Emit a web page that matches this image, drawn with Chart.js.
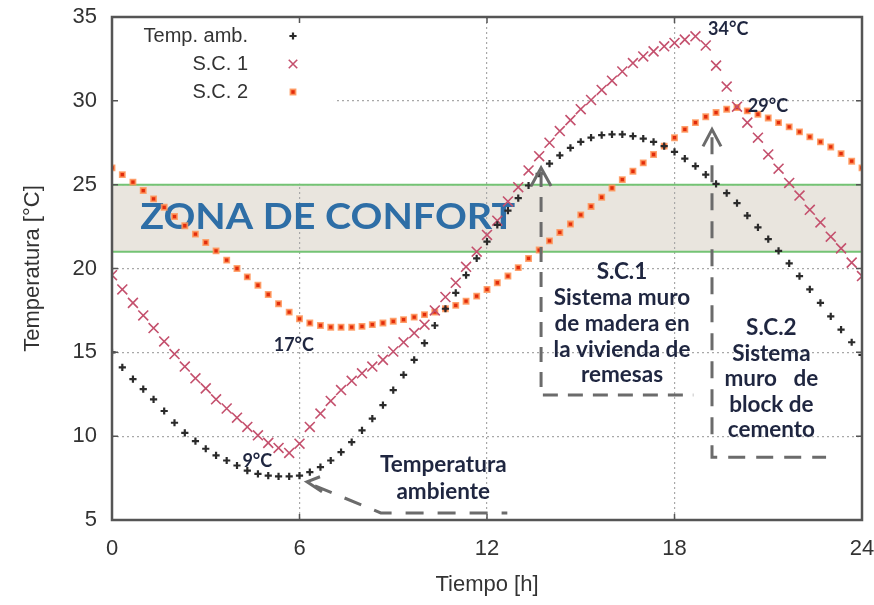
<!DOCTYPE html>
<html>
<head>
<meta charset="utf-8">
<script src="https://cdn.jsdelivr.net/npm/chart.js@4.4.1/dist/chart.umd.min.js"></script>
<style>
  html, body { margin: 0; padding: 0; background: #fff; }
  #wrap { width: 874px; height: 605px; }
</style>
</head>
<body>
<div id="wrap"><canvas id="grafica" width="874" height="605"></canvas></div>
<script>
// ── datos (lectura de la figura, paso de 20 min) ─────────────
const tiempo = [0,0.33,0.67,1,1.33,1.67,2,2.33,2.67,3,3.33,3.67,4,4.33,4.67,5,5.33,5.67,
  6,6.33,6.67,7,7.33,7.67,8,8.33,8.67,9,9.33,9.67,10,10.33,10.67,11,11.33,11.67,
  12,12.33,12.67,13,13.33,13.67,14,14.33,14.67,15,15.33,15.67,16,16.33,16.67,17,17.33,17.67,
  18,18.33,18.67,19,19.33,19.67,20,20.33,20.67,21,21.33,21.67,22,22.33,22.67,23,23.33,23.67,24];

const tempAmb = [15.0,14.1,13.4, 12.8,12.2,11.5, 10.8,10.2,9.7, 9.25,8.85,8.55, 8.25,7.95,7.75, 7.65,7.6,7.6,
  7.65,7.85,8.15, 8.55,9.05,9.65, 10.35,11.05,11.85, 12.75,13.65,14.55, 15.55,16.6,17.6, 18.55,19.6,20.6,
  21.6,22.6,23.45, 24.2,24.95,25.65, 26.25,26.75,27.2, 27.55,27.8,27.95, 28.0,28.0,27.9, 27.75,27.55,27.3,
  26.95,26.55,26.1, 25.6,25.05,24.5, 23.9,23.15,22.45, 21.75,21.05,20.3, 19.55,18.75,17.95, 17.15,16.35,15.6, 14.85];

const sc1 = [19.6,18.75,17.95, 17.2,16.45,15.65, 14.9,14.15,13.45, 12.85,12.2,11.65, 11.1,10.55,10.05, 9.6,9.3,9.0,
  9.55,10.55,11.35, 12.1,12.75,13.3, 13.75,14.15,14.55, 15.05,15.6,16.15, 16.65,17.5,18.3, 19.15,20.1,21.0,
  22.0,22.85,24.0, 24.85,25.85,26.7, 27.5,28.2,28.85, 29.5,30.05,30.65, 31.2,31.75,32.25, 32.65,32.95,33.25,
  33.45,33.65,33.85, 33.3,32.1,30.85, 29.65,28.7,27.8, 26.8,25.95,25.1, 24.35,23.5,22.75, 21.9,21.2,20.35, 19.55];

const sc2 = [26.0,25.6,25.15, 24.65,24.15,23.65, 23.1,22.55,22.05, 21.55,21.05,20.5, 20.0,19.5,19.0, 18.45,17.9,17.4,
  17.0,16.75,16.6, 16.5,16.5,16.5, 16.55,16.65,16.75, 16.85,16.95,17.1, 17.25,17.4,17.6, 17.8,18.05,18.35,
  18.75,19.15,19.55, 20.05,20.6,21.1, 21.65,22.15,22.65, 23.2,23.7,24.25, 24.8,25.3,25.8, 26.3,26.8,27.3,
  27.8,28.3,28.7, 29.05,29.3,29.5, 29.6,29.4,29.2, 28.98,28.7,28.45, 28.15,27.85,27.55, 27.25,26.85,26.4, 26.0];

const ticksX = [0, 6, 12, 18, 24];
const ticksY = [5, 10, 15, 20, 25, 30, 35];
const zonaConfort = [21, 25];

const etiquetas = ["Temp. amb.", "S.C. 1", "S.C. 2"];

// ── estilos ──────────────────────────────────────
const GRIS_TXT = "#333";
const NAVY = "#1f2640";
const DASH_COLOR = "#6b6b6b";

const toPts = arr => arr.map((v, i) => ({ x: tiempo[i], y: v }));

const X = (c, t) => c.scales.x.getPixelForValue(t);
const Y = (c, v) => c.scales.y.getPixelForValue(v);

// sin márgenes automáticos por las etiquetas: el área la fija layout.padding
function sinPadding(s) {
  s.paddingTop = 0; s.paddingBottom = 0; s.paddingLeft = 0; s.paddingRight = 0;
}

// banda de confort, debajo de la rejilla
const bandaPlugin = {
  id: "banda",
  beforeDraw(c) {
    const ctx = c.ctx, a = c.chartArea;
    ctx.save();
    ctx.fillStyle = "#e9e5de";
    ctx.fillRect(a.left, Y(c, zonaConfort[1]), a.right - a.left, Y(c, zonaConfort[0]) - Y(c, zonaConfort[1]));
    ctx.restore();
  },
  beforeDatasetsDraw(c) {
    const ctx = c.ctx, a = c.chartArea;
    ctx.save();
    // hueco blanco de la leyenda (tapa la rejilla)
    ctx.fillStyle = "#fff";
    ctx.fillRect(a.left + 1, a.top + 1, X(c, 7.07) - a.left, Y(c, 25) - a.top - 2);
    // líneas verdes
    ctx.strokeStyle = "#74c374";
    ctx.lineWidth = 2;
    zonaConfort.forEach(v => {
      ctx.beginPath();
      ctx.moveTo(a.left, Y(c, v));
      ctx.lineTo(a.right, Y(c, v));
      ctx.stroke();
    });
    // ZONA DE CONFORT
    const txt = "ZONA DE CONFORT";
    ctx.font = "bold 36px Lato";
    const w = ctx.measureText(txt).width;
    const x0 = X(c, 0.9), x1 = X(c, 12.9);
    ctx.translate(x0, Y(c, 23.05));
    ctx.scale((x1 - x0) / w, 1);
    ctx.fillStyle = "#2e6ea6";
    ctx.textAlign = "left";
    ctx.textBaseline = "middle";
    ctx.fillText(txt, 0, 0);
    ctx.restore();
  }
};

function dashedPath(ctx, pts, dash) {
  ctx.save();
  ctx.setLineDash(dash);
  ctx.beginPath();
  ctx.moveTo(pts[0][0], pts[0][1]);
  for (let i = 1; i < pts.length; i++) ctx.lineTo(pts[i][0], pts[i][1]);
  ctx.stroke();
  ctx.restore();
}

function chevron(ctx, ax, ay, p1, p2) {
  ctx.beginPath();
  ctx.moveTo(p1[0], p1[1]);
  ctx.lineTo(ax, ay);
  ctx.lineTo(p2[0], p2[1]);
  ctx.stroke();
}

function bloqueTexto(ctx, lines, cx, cy, lh) {
  lines.forEach((l, i) => ctx.fillText(l, cx, cy + i * lh));
}

const anotaPlugin = {
  id: "anota",
  afterDatasetsDraw(c) {
    const ctx = c.ctx, a = c.chartArea;
    ctx.save();

    // marco
    ctx.strokeStyle = "#555";
    ctx.lineWidth = 2.5;
    ctx.strokeRect(a.left, a.top, a.right - a.left, a.bottom - a.top);
    // marcas hacia dentro
    ctx.lineWidth = 1.5;
    ctx.beginPath();
    ticksX.forEach(t => {
      const x = X(c, t);
      ctx.moveTo(x, a.bottom); ctx.lineTo(x, a.bottom - 6);
      ctx.moveTo(x, a.top); ctx.lineTo(x, a.top + 6);
    });
    ticksY.forEach(v => {
      const y = Y(c, v);
      ctx.moveTo(a.left, y); ctx.lineTo(a.left + 6, y);
      ctx.moveTo(a.right, y); ctx.lineTo(a.right - 6, y);
    });
    ctx.stroke();

    // flechas discontinuas
    ctx.strokeStyle = DASH_COLOR;
    ctx.lineWidth = 3;
    ctx.lineCap = "butt";

    // S.C.1
    let ax = X(c, 13.73), ay = Y(c, 26.0);
    chevron(ctx, ax, ay, [ax - 10, ay + 18], [ax + 10, ay + 18]);
    dashedPath(ctx, [[ax, ay + 4], [ax, Y(c, 12.45)], [X(c, 18.6), Y(c, 12.45)]], [15, 10]);

    // S.C.2
    ax = X(c, 19.2); ay = Y(c, 28.3);
    chevron(ctx, ax, ay, [ax - 9, ay + 17], [ax + 9, ay + 17]);
    dashedPath(ctx, [[ax, ay + 8], [ax, Y(c, 8.75)], [X(c, 22.85), Y(c, 8.75)]], [17, 11]);

    // temperatura ambiente
    ax = X(c, 6.24); ay = Y(c, 7.28);
    chevron(ctx, ax, ay, [ax + 13, ay - 5], [ax + 15, ay + 10]);
    dashedPath(ctx, [[ax + 8, ay + 4], [X(c, 8.6), Y(c, 5.42)], [X(c, 12.65), Y(c, 5.42)]], [18, 14]);

    // textos
    ctx.fillStyle = NAVY;
    ctx.textAlign = "center";
    ctx.textBaseline = "middle";
    ctx.font = "bold 22.5px Lato";
    bloqueTexto(ctx, ["S.C.1", "Sistema muro", "de madera en", "la vivienda de", "remesas"],
      X(c, 16.32), Y(c, 19.8), 25.8);
    bloqueTexto(ctx, ["S.C.2", "Sistema", "muro   de", "block de", "cemento"],
      X(c, 21.1), Y(c, 16.45), 25.5);
    bloqueTexto(ctx, ["Temperatura", "ambiente"], X(c, 10.6), Y(c, 8.3), 27);

    ctx.font = "bold 18px Lato";
    ctx.fillText("34°C", X(c, 19.72), Y(c, 34.25));
    ctx.fillText("29°C", X(c, 20.99), Y(c, 29.67));
    ctx.fillText("17°C", X(c, 5.82), Y(c, 15.4));
    ctx.fillText("9°C", X(c, 4.65), Y(c, 8.5));
    ctx.restore();
  },
  afterDraw(c) {
    // leyenda a la gnuplot
    const ctx = c.ctx;
    ctx.save();
    ctx.font = "20px 'Liberation Sans'";
    ctx.fillStyle = GRIS_TXT;
    ctx.textAlign = "right";
    ctx.textBaseline = "middle";
    c.data.datasets.forEach((ds, i) => {
      const y = 36 + i * 28;
      ctx.fillText(ds.label, 248, y);
      ctx.fillStyle = ds.backgroundColor;
      ctx.strokeStyle = ds.borderColor;
      ctx.lineWidth = ds.borderWidth;
      const r = ds.pointStyle === "crossRot" ? 6 : ds.pointRadius;
      Chart.helpers.drawPoint(ctx, { pointStyle: ds.pointStyle, radius: r, rotation: 0, borderWidth: ds.borderWidth }, 293, y);
      ctx.fillStyle = GRIS_TXT;
    });
    ctx.restore();
  }
};

new Chart(document.getElementById("grafica").getContext("2d"), {
  type: "scatter",
  data: {
    datasets: [
      {
        label: etiquetas[0], data: toPts(tempAmb),
        pointStyle: "cross", pointRadius: 3.6, borderWidth: 2.2,
        borderColor: "#2a2a2a", backgroundColor: "#2a2a2a",
      },
      {
        label: etiquetas[1], data: toPts(sc1),
        pointStyle: "crossRot", pointRadius: 7, borderWidth: 1.6,
        borderColor: "#c4506d", backgroundColor: "#c4506d",
      },
      {
        label: etiquetas[2], data: toPts(sc2),
        pointStyle: "rect", pointRadius: 3.6, borderWidth: 1.8,
        borderColor: "rgba(255,150,90,0.85)", backgroundColor: "#e22c0c",
      },
    ],
  },
  options: {
    responsive: false,
    animation: false,
    layout: { padding: { top: 17, right: 12, left: 0, bottom: 0 } },
    plugins: { legend: { display: false }, tooltip: { enabled: false } },
    scales: {
      x: {
        type: "linear", min: 0, max: 24,
        afterBuildTicks(s) { s.ticks = ticksX.map(v => ({ value: v })); },
        afterFit(s) { s.height = 85; sinPadding(s); },
        grid: { color: "#a8a8a8", lineWidth: 1.2, drawTicks: false },
        border: { display: false, dash: [2, 3] },
        ticks: { color: GRIS_TXT, font: { size: 22, family: "'Liberation Sans'" }, padding: 16, maxRotation: 0 },
        title: { display: true, text: "Tiempo [h]", color: GRIS_TXT, font: { size: 22, family: "'Liberation Sans'" }, padding: { top: 0, bottom: 7 } },
      },
      y: {
        min: 5, max: 35,
        afterBuildTicks(s) { s.ticks = ticksY.map(v => ({ value: v })); },
        afterFit(s) { s.width = 112; sinPadding(s); },
        grid: { color: "#a8a8a8", lineWidth: 1.2, drawTicks: false },
        border: { display: false, dash: [2, 3] },
        ticks: { color: GRIS_TXT, font: { size: 22, family: "'Liberation Sans'" }, padding: 15 },
        title: { display: true, text: "Temperatura [°C]", color: GRIS_TXT, font: { size: 22, family: "'Liberation Sans'" }, padding: { top: 20, bottom: 0 } },
      },
    },
  },
  plugins: [bandaPlugin, anotaPlugin],
});
</script>
</body>
</html>
